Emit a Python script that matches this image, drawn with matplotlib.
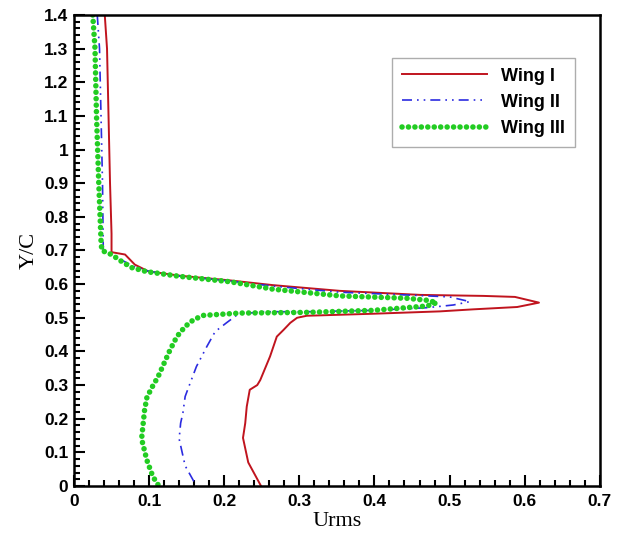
import matplotlib.pyplot as plt
from matplotlib.ticker import MultipleLocator

# Wing I (red, solid)
wing1_x = [0.041, 0.044, 0.046, 0.048, 0.050, 0.050, 0.068, 0.081, 0.099, 0.141, 0.208, 0.265,
           0.354, 0.461, 0.545, 0.587, 0.619, 0.590, 0.531, 0.487, 0.398, 0.310, 0.297, 0.288,
           0.279, 0.270, 0.261, 0.248, 0.244, 0.234, 0.230, 0.228, 0.225, 0.232, 0.249]
wing1_y = [1.40, 1.30, 1.10, 0.90, 0.75, 0.695, 0.688, 0.658, 0.638, 0.625, 0.611, 0.597,
           0.580, 0.568, 0.565, 0.562, 0.545, 0.532, 0.525, 0.519, 0.512, 0.506, 0.500, 0.485,
           0.464, 0.444, 0.385, 0.315, 0.300, 0.286, 0.236, 0.187, 0.143, 0.070, 0.0]

# Wing II (blue, dash-dot-dot)
wing2_x = [0.031, 0.034, 0.036, 0.038, 0.039, 0.045, 0.063, 0.080, 0.100, 0.141, 0.208, 0.265,
           0.354, 0.461, 0.500, 0.527, 0.505, 0.470, 0.398, 0.310, 0.250, 0.218, 0.203, 0.188,
           0.177, 0.163, 0.152, 0.148, 0.145, 0.142, 0.140, 0.148, 0.163]
wing2_y = [1.40, 1.30, 1.10, 0.90, 0.70, 0.69, 0.672, 0.652, 0.638, 0.624, 0.609, 0.594,
           0.576, 0.566, 0.562, 0.548, 0.538, 0.530, 0.522, 0.518, 0.518, 0.510, 0.485, 0.459,
           0.415, 0.355, 0.290, 0.266, 0.217, 0.187, 0.140, 0.060, 0.0]

# Wing III (green, dotted)
wing3_x = [0.025, 0.028, 0.030, 0.033, 0.036, 0.037, 0.050, 0.063, 0.077, 0.097, 0.141, 0.208,
           0.265, 0.354, 0.443, 0.470, 0.483, 0.470, 0.398, 0.310, 0.221, 0.172, 0.159, 0.148,
           0.137, 0.128, 0.121, 0.112, 0.103, 0.097, 0.094, 0.090, 0.097, 0.105, 0.113]
wing3_y = [1.40, 1.30, 1.10, 0.90, 0.73, 0.70, 0.688, 0.668, 0.649, 0.637, 0.623, 0.607,
           0.585, 0.565, 0.558, 0.552, 0.545, 0.535, 0.522, 0.516, 0.514, 0.507, 0.494, 0.474,
           0.444, 0.405, 0.370, 0.325, 0.290, 0.262, 0.226, 0.140, 0.077, 0.028, 0.0]

labels = ['Wing I', 'Wing II', 'Wing III']

fig = plt.figure(figsize=(6.19, 5.35), dpi=100)
ax = fig.add_axes([0.1195, 0.0916, 0.8495, 0.8804])

ax.plot(wing1_x, wing1_y, color='#c0141e', lw=1.4, label=labels[0])
ax.plot(wing2_x, wing2_y, color='#2b2be0', lw=1.2, dashes=(6, 3, 1, 3, 1, 3), label=labels[1])
ax.plot(wing3_x, wing3_y, color='#22cc22', lw=4.0, linestyle=(0, (0.01, 1.15)),
        dash_capstyle='round', label=labels[2])

ax.set_xlim(0, 0.7)
ax.set_ylim(0, 1.4)
ax.xaxis.set_major_locator(MultipleLocator(0.1))
ax.xaxis.set_minor_locator(MultipleLocator(0.02))
ax.yaxis.set_major_locator(MultipleLocator(0.1))
ax.yaxis.set_minor_locator(MultipleLocator(0.02))
fmt = lambda v, p: ('%g' % round(v, 2))
ax.xaxis.set_major_formatter(fmt)
ax.yaxis.set_major_formatter(fmt)

ax.tick_params(which='both', direction='in', top=False, right=False, width=1.5)
ax.tick_params(which='major', length=8, labelsize=12.5)
ax.tick_params(which='minor', length=4.5)
ax.tick_params(axis='x', which='major', pad=6)
ax.tick_params(axis='y', which='major', pad=4)
for lab in ax.get_xticklabels() + ax.get_yticklabels():
    lab.set_fontfamily('Liberation Sans')
    lab.set_fontweight('bold')
for s in ax.spines.values():
    s.set_linewidth(1.8)

ax.set_xlabel('Urms', fontfamily='Liberation Serif', fontsize=16, labelpad=2)
ax.set_ylabel('Y/C', fontfamily='Liberation Serif', fontsize=16, labelpad=4)

leg = ax.legend(loc='upper left', bbox_to_anchor=(0.605, 0.909), borderaxespad=0,
                frameon=True, fancybox=False, edgecolor='#999999', handlelength=4.7,
                handletextpad=0.8, borderpad=0.55, labelspacing=0.5,
                prop={'family': 'Liberation Sans', 'weight': 'bold', 'size': 13})
leg.get_frame().set_linewidth(1.0)

fig.savefig('out.png', dpi=100)
